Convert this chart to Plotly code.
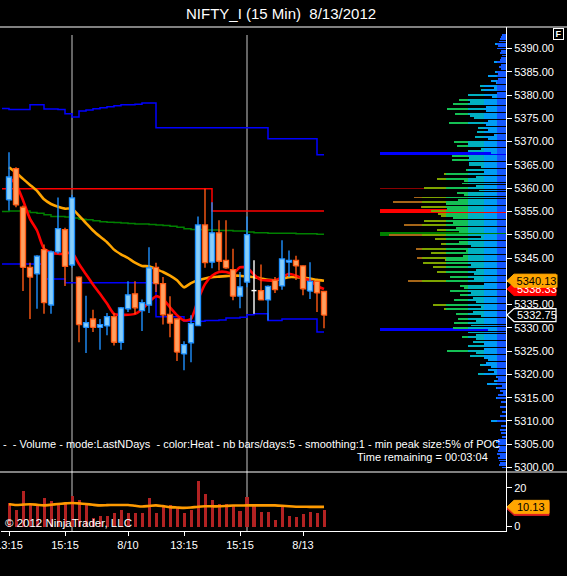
import numpy as np
import plotly.graph_objects as go

# ---------------- data ----------------
bars = list(range(46))
opens = [5357.5, 5364.2, 5355.9, 5343.0, 5341.6, 5346.8, 5334.9, 5346.3, 5351.1, 5343.5,
         5340.9, 5330.1, 5331.9, 5330.1, 5330.4, 5332.4, 5326.9, 5334.1, 5337.3, 5333.7,
         5334.9, 5343.0, 5339.5, 5332.9, 5331.9, 5324.4, 5326.8, 5330.5, 5352.1, 5344.1,
         5350.4, 5344.5, 5342.5, 5336.8, 5339.8, 5338.0, 5338.0, 5336.0, 5340.2, 5339.0,
         5344.1, 5344.5, 5343.3, 5337.9, 5340.0, 5337.8]
highs = [5367.7, 5364.5, 5356.3, 5344.0, 5345.6, 5347.9, 5346.6, 5358.0, 5351.5, 5358.6,
         5341.0, 5336.9, 5333.9, 5331.9, 5333.2, 5333.2, 5334.5, 5340.0, 5340.0, 5336.1,
         5347.3, 5344.0, 5340.9, 5336.8, 5332.0, 5327.1, 5332.7, 5353.9, 5359.9, 5357.0,
         5353.1, 5353.1, 5347.0, 5342.0, 5353.9, 5344.5, 5343.6, 5339.1, 5340.9, 5348.8,
         5346.6, 5345.5, 5343.4, 5344.1, 5340.1, 5337.9]
lows = [5355.2, 5355.9, 5337.9, 5331.9, 5334.1, 5333.0, 5333.0, 5345.9, 5339.0, 5342.9,
        5326.9, 5324.6, 5329.1, 5325.3, 5328.4, 5326.2, 5325.3, 5333.4, 5332.9, 5329.3,
        5333.2, 5337.7, 5330.7, 5328.0, 5322.9, 5320.9, 5322.6, 5330.4, 5342.9, 5342.8,
        5342.3, 5342.7, 5335.9, 5334.2, 5338.7, 5333.0, 5336.0, 5331.6, 5337.5, 5338.2,
        5340.9, 5340.3, 5337.0, 5336.2, 5333.4, 5329.9]
closes = [5362.4, 5356.4, 5343.0, 5340.9, 5345.4, 5335.4, 5346.3, 5351.3, 5343.2, 5357.9,
          5330.7, 5331.1, 5330.1, 5330.7, 5332.4, 5326.9, 5334.3, 5337.1, 5334.3, 5335.4,
          5342.9, 5339.5, 5332.8, 5331.0, 5324.8, 5326.4, 5330.9, 5352.1, 5344.0, 5350.4,
          5344.3, 5342.9, 5336.8, 5338.8, 5350.0, 5338.0, 5336.0, 5338.9, 5338.2, 5344.8,
          5344.5, 5343.3, 5338.4, 5340.0, 5337.5, 5332.75]
volumes = [12.1, 8.7, 18.5, 11.1, 11.1, 14.9, 13.3, 11.1, 12.0, 15.9,
           13.8, 12.1, 4.4, 5.3, 5.3, 7.2, 8.5, 6.8, 6.8, 6.8,
           14.7, 6.8, 11.1, 11.1, 9.9, 6.8, 8.5, 23.6, 16.8, 13.8,
           11.6, 11.6, 11.3, 7.9, 15.4, 11.1, 7.7, 7.4, 3.6, 11.1,
           5.6, 5.1, 6.3, 7.7, 6.8, 8.7]
vol_ma = [11.5, 11.1, 11.3, 11.5, 11.2, 10.9, 11.2, 11.6, 11.9, 12.1,
          11.9, 11.6, 11.2, 10.9, 11.0, 11.1, 11.1, 11.1, 10.7, 10.3,
          10.6, 10.9, 10.5, 10.0, 9.8, 9.6, 9.8, 10.2, 10.4, 10.4,
          10.4, 10.6, 10.8, 10.8, 10.9, 10.9, 10.9, 10.9, 10.9, 10.7,
          10.4, 10.2, 10.2, 10.1, 10.1, 10.13]
ema_orange = [5364.5, 5363.3, 5362.0, 5360.7, 5359.4, 5357.6, 5356.6, 5356.0, 5355.6, 5355.6,
              5354.1, 5352.5, 5350.9, 5349.6, 5348.4, 5346.8, 5345.8, 5345.0, 5344.0, 5343.3,
              5343.2, 5342.6, 5342.0, 5341.2, 5340.2, 5338.7, 5339.6, 5340.2, 5340.6, 5340.9,
              5341.0, 5341.1, 5341.2, 5341.2, 5341.0, 5340.9, 5340.6, 5340.3, 5340.2, 5340.5,
              5340.9, 5340.9, 5340.8, 5340.6, 5340.3, 5340.13]
ma_red = [5362.3, 5360.9, 5357.4, 5353.4, 5350.9, 5347.0, 5346.2, 5345.9, 5345.9, 5346.2,
          5343.7, 5341.5, 5339.3, 5337.3, 5335.2, 5333.0, 5332.8, 5332.8, 5333.0, 5334.0,
          5335.5, 5336.8, 5336.2, 5334.4, 5332.7, 5331.6, 5331.9, 5336.0, 5339.4, 5341.2,
          5342.0, 5342.0, 5341.6, 5343.0, 5342.9, 5341.4, 5340.3, 5340.2, 5340.2, 5340.8,
          5341.6, 5341.2, 5340.6, 5340.2, 5339.0, 5338.33]

step_bars = list(range(-1, 46))
green_line = [5355.0, 5355.1, 5355.1, 5355.1, 5354.8, 5354.6, 5354.3, 5353.9, 5353.9, 5353.8,
              5353.6, 5353.3, 5353.2, 5353.0, 5352.8, 5352.7, 5352.6, 5352.5, 5352.4, 5352.3,
              5352.3, 5352.2, 5352.1, 5352.0, 5351.8, 5351.6, 5351.3, 5351.1, 5351.1, 5351.0,
              5351.0, 5350.9, 5350.9, 5350.8, 5350.8, 5350.6, 5350.4, 5350.4, 5350.3, 5350.3,
              5350.3, 5350.3, 5350.2, 5350.2, 5350.2, 5350.1, 5350.1]
blue_lower = ([5343.7] * 6 + [5340.5] * 3 + [5339.7] * 13 + [5332.4] * 4 + [5331.4] * 3 +
              [5331.6] * 2 + [5331.7] + [5332.1] * 2 + [5332.3] + [5332.8] + [5333.0] * 2 +
              [5331.6] * 2 + [5331.9] * 5 + [5329.1] * 2)
blue_upper = ([5377.1] + [5376.9] * 3 + [5377.9] * 2 + [5377.0] * 2 + [5376.9] + [5376.0] +
              [5375.3] + [5376.6] + [5376.8] + [5377.05] + [5377.3] + [5377.5] + [5377.7] +
              [5377.9] * 2 + [5378.0] + [5378.3] * 2 + [5373.0] * 16 + [5370.6] * 7 + [5367.2] * 2)
red_level = [5359.9] * 30 + [5355.1] * 17

x_tick_bars = [0, 8, 17, 25, 33, 42]
x_tick_text = ['13:15', '15:15', '8/10', '13:15', '15:15', '8/13']
vline_bars = [9, 34]
price_ticks = list(range(5300, 5391, 5))
vol_ticks = [0, 20]

# volume profile (length of each price row), rows from top price down by step
profile_top = 5393.0
profile_step = 0.5
profile_len = [4, 5, 6, 7, 11, 8, 9, 5, 6, 4,
               5, 6, 12, 5, 7, 5, 11, 8, 18, 8,
               15, 10, 26, 12, 25, 9, 38, 14, 47, 36,
               53, 20, 59, 20, 51, 36, 32, 18, 57, 20,
               28, 18, 29, 12, 31, 18, 52, 38, 49, 25,
               38, 15, 54, 37, 54, 37, 37, 25, 40, 22,
               62, 30, 69, 42, 44, 30, 82, 27, 49, 42,
               92, 48, 113, 60, 85, 59, 75, 68, 65, 53,
               82, 53, 102, 50, 69, 47, 117, 25, 71, 47,
               65, 35, 90, 40, 75, 43, 89, 61, 83, 35,
               73, 30, 69, 32, 56, 32, 98, 22, 46, 42,
               56, 35, 46, 33, 52, 30, 73, 25, 62, 33,
               50, 25, 48, 30, 52, 35, 53, 18, 38, 30,
               44, 30, 33, 22, 38, 22, 59, 30, 36, 22,
               18, 20, 26, 15, 18, 12, 28, 10, 8, 12,
               19, 4, 10, 6, 3, 8, 10, 0, 5, 0,
               6, 0, 4, 0, 6, 0, 15, 0, 5, 0,
               6, 5, 0, 4, 8, 10, 8, 10, 7, 8,
               9, 6, 8, 7, 6, 7, 4]
peak_prices = [5367.4, 5359.9, 5355.1, 5350.2, 5329.6]
peak_colors = ['#0000FF', '#8B0000', '#FF0000', '#008000', '#0000FF']
peak_thick_px = [3.5, 1.5, 3.5, 3.5, 3.5]

last_price = closes[-1]
orange_last = ema_orange[-1]
red_last = ma_red[-1]
vol_ma_last = vol_ma[-1]

title_text = 'NIFTY_I (15 Min)\u00a0\u00a08/13/2012'
info_text = ('-\u00a0\u00a0- Volume - mode:LastNDays\u00a0\u00a0- color:Heat - nb bars/days:5 - '
             'smoothing:1 - min peak size:5% of POC')
time_text = 'Time remaining = 00:03:04'
copy_text = '\u00a9 2012 NinjaTrader, LLC'

# ---------------- geometry / styles ----------------
W, H = 567, 576
ML, MR, MT, MB = 1, 61, 27, 45
PW, PH = W - ML - MR, H - MT - MB
PX_PER_BAR = 7.0
X0_PX = 9.0                     # pixel of bar 0
PRICE_PX = 4.6556               # pixels per price point
P_TOP = 5390 + (48.5 - MT) / PRICE_PX
P_BOT = 5300 - (472 - 467.5) / PRICE_PX
VOL_PX = 1.94
VOL_SPLIT_PX = 472
vol_frac = (H - MB - VOL_SPLIT_PX) / PH
V_TOP = (526.5 - VOL_SPLIT_PX) / VOL_PX
V_BOT = -(H - MB - 526.5) / VOL_PX
x_lo = -(X0_PX - ML) / PX_PER_BAR
x_hi = x_lo + PW / PX_PER_BAR
HALF = 0.36
PEAK_LEN = 126
ROW_W = 0.42
FONT = 'Liberation Sans, Arial, sans-serif'

UP_FILL, UP_LINE = '#87CEFA', '#1E90FF'
DN_FILL, DN_LINE = '#FFA060', '#FF5A14'

band_edges = [0, 9, 22, 38, 60, 84, 400]
band_colors = ['#1458ff', '#009cf4', '#00b0c0', '#14c054', '#7ea400', '#a66618']


def px_x(x):
    return (x - ML) / PW


def px_y(y):
    return (H - MB - y) / PH


fig = go.Figure()

# ---- indicator lines (price panel) ----
fig.add_trace(go.Scatter(x=step_bars, y=green_line, mode='lines', line=dict(color='#008000', width=1.5, shape='hv')))
fig.add_trace(go.Scatter(x=step_bars, y=blue_upper, mode='lines', line=dict(color='#0000FF', width=1.5, shape='hv')))
fig.add_trace(go.Scatter(x=step_bars, y=blue_lower, mode='lines', line=dict(color='#0000FF', width=1.5, shape='hv')))
fig.add_trace(go.Scatter(x=step_bars, y=red_level, mode='lines', line=dict(color='#FF0000', width=1.5, shape='hv')))
fig.add_trace(go.Scatter(x=bars, y=ema_orange, mode='lines', line=dict(color='#FFA500', width=2.6, shape='spline', smoothing=0.6)))
fig.add_trace(go.Scatter(x=bars, y=ma_red, mode='lines', line=dict(color='#FF0000', width=2.6, shape='spline', smoothing=0.6)))

# ---- candles ----
up = [i for i in bars if closes[i] > opens[i]]
dn = [i for i in bars if closes[i] < opens[i]]
dj = [i for i in bars if closes[i] == opens[i]]


def wicks(ids):
    xs, ys = [], []
    for i in ids:
        xs += [bars[i], bars[i], None]
        ys += [lows[i], highs[i], None]
    return xs, ys


def bodies(ids):
    xs, ys = [], []
    for i in ids:
        lo, hi = min(opens[i], closes[i]), max(opens[i], closes[i])
        x0, x1 = bars[i] - HALF, bars[i] + HALF
        xs += [x0, x1, x1, x0, x0, None]
        ys += [lo, lo, hi, hi, lo, None]
    return xs, ys


for ids, wc in ((up, UP_LINE), (dn, DN_LINE)):
    wx, wy = wicks(ids)
    fig.add_trace(go.Scatter(x=wx, y=wy, mode='lines', line=dict(color=wc, width=1.4)))
wx, wy = wicks(dj)
for i in dj:
    wx += [bars[i] - HALF, bars[i] + HALF, None]
    wy += [opens[i], opens[i], None]
fig.add_trace(go.Scatter(x=wx, y=wy, mode='lines', line=dict(color='#FFFFFF', width=1.4)))
for ids, fc, lc in ((up, UP_FILL, UP_LINE), (dn, DN_FILL, DN_LINE)):
    bx, by = bodies(ids)
    fig.add_trace(go.Scatter(x=bx, y=by, mode='lines', fill='toself', fillcolor=fc,
                             line=dict(color=lc, width=1.3)))

# ---- volume panel ----
fig.add_trace(go.Bar(x=bars, y=volumes, yaxis='y2', width=0.43, marker=dict(color='#B22222', line=dict(width=0))))
fig.add_trace(go.Scatter(x=bars, y=vol_ma, yaxis='y2', mode='lines',
                         line=dict(color='#FF9A00', width=2.6, shape='spline', smoothing=0.6)))

# ---- volume profile (right side) ----
levels = profile_top - profile_step * np.arange(len(profile_len))
fig.add_trace(go.Bar(orientation='h', x=[PEAK_LEN] * len(peak_prices), y=peak_prices, base=0,
                     width=[t / PRICE_PX for t in peak_thick_px], xaxis='x2', yaxis='y',
                     marker=dict(color=peak_colors, line=dict(width=0))))
for a, b, col in zip(band_edges[:-1], band_edges[1:], band_colors):
    seg = [max(0, min(L, b) - a) for L in profile_len]
    fig.add_trace(go.Bar(orientation='h', x=seg, y=levels, base=a, width=ROW_W,
                         xaxis='x2', yaxis='y', marker=dict(color=col, line=dict(width=0))))

# ---- shapes ----
shapes = []
for vb in vline_bars:
    shapes.append(dict(type='line', xref='x', yref='paper', x0=vb, x1=vb, y0=0, y1=px_y(35),
                       line=dict(color='#C8C8C8', width=1), layer='below'))
for yy in (MT, VOL_SPLIT_PX):
    shapes.append(dict(type='line', xref='paper', yref='paper', x0=px_x(0), x1=px_x(W),
                       y0=px_y(yy), y1=px_y(yy), line=dict(color='#FFFFFF', width=1.2), layer='above'))


def tag(yref, yval, fill, line, dy=0, lw=1, wpx=50):
    path = (f'M 1 {dy} L 8 {6.5 + dy} L {wpx} {6.5 + dy} L {wpx} {-6.5 + dy} '
            f'L 8 {-6.5 + dy} Z')
    return dict(type='path', xref='paper', yref=yref, xsizemode='pixel', ysizemode='pixel',
                xanchor=1, yanchor=yval, path=path, fillcolor=fill,
                line=dict(color=line, width=lw), layer='above')


shapes.append(tag('y', red_last, '#FF0000', '#FF0000'))
shapes.append(tag('y', orange_last, '#FFA500', '#FFA500'))
shapes.append(tag('y', last_price, '#000000', '#FFFFFF', lw=1.2))
shapes.append(tag('y2', vol_ma_last, '#E02020', '#E02020', dy=-2, wpx=43))
shapes.append(tag('y2', vol_ma_last, '#FFA500', '#FFA500', wpx=43))

# ---- annotations ----
ann = []
ann.append(dict(text=title_text, xref='paper', yref='paper', x=px_x(281), y=px_y(13),
                xanchor='center', yanchor='middle', showarrow=False,
                font=dict(family=FONT, size=15, color='#FFFFFF')))
ann.append(dict(text='<b>F</b>', xref='paper', yref='paper', x=px_x(558), y=px_y(34),
                xanchor='center', yanchor='middle', showarrow=False, width=9, height=10,
                bgcolor='#000000', bordercolor='#FFFFFF', borderwidth=1, borderpad=0,
                font=dict(family=FONT, size=9, color='#FFFFFF')))
ann.append(dict(text=info_text, xref='paper', yref='paper', x=px_x(502), y=px_y(444),
                xanchor='right', yanchor='middle', showarrow=False,
                font=dict(family=FONT, size=11, color='#FFFFFF')))
ann.append(dict(text=time_text, xref='paper', yref='paper', x=px_x(490), y=px_y(457),
                xanchor='right', yanchor='middle', showarrow=False,
                font=dict(family=FONT, size=11, color='#FFFFFF')))
ann.append(dict(text=copy_text, xref='paper', yref='paper', x=px_x(3), y=px_y(523),
                xanchor='left', yanchor='middle', showarrow=False,
                font=dict(family=FONT, size=11.5, color='#FFFFFF')))
ann.append(dict(text=f'{red_last:.2f}', xref='paper', yref='y', x=1, y=red_last, xanchor='left',
                xshift=9, yanchor='middle', showarrow=False,
                font=dict(family=FONT, size=11, color='#FFFFFF')))
ann.append(dict(text=f'{orange_last:.2f}', xref='paper', yref='y', x=1, y=orange_last, xanchor='left',
                xshift=9, yanchor='middle', showarrow=False, width=41, height=12,
                bgcolor='#FFA500', borderpad=0,
                font=dict(family=FONT, size=11, color='#000000')))
ann.append(dict(text=f'{last_price:.2f}', xref='paper', yref='y', x=1, y=last_price, xanchor='left',
                xshift=9, yanchor='middle', showarrow=False,
                font=dict(family=FONT, size=11, color='#FFFFFF')))
ann.append(dict(text=f'{vol_ma_last:.2f}', xref='paper', yref='y2', x=1, y=vol_ma_last, xanchor='left',
                xshift=9, yanchor='middle', showarrow=False,
                font=dict(family=FONT, size=11, color='#000000')))

axis_font = dict(family=FONT, size=11, color='#FFFFFF')
fig.update_layout(
    width=W, height=H,
    margin=dict(l=ML, r=MR, t=MT, b=MB, autoexpand=False),
    paper_bgcolor='#000000', plot_bgcolor='#000000',
    showlegend=False, hovermode=False, barmode='overlay', bargap=0,
    xaxis=dict(domain=[0, 1], range=[x_lo, x_hi], anchor='y2', showgrid=False, zeroline=False,
               tickmode='array', tickvals=x_tick_bars, ticktext=x_tick_text,
               ticks='outside', ticklen=4, tickcolor='#FFFFFF', tickfont=axis_font,
               ticklabeloverflow='allow',
               showline=True, linecolor='#FFFFFF', linewidth=1),
    xaxis2=dict(overlaying='x', range=[PW, 0], visible=False, anchor='y'),
    yaxis=dict(domain=[vol_frac, 1], range=[P_BOT, P_TOP], side='right', anchor='x',
               showgrid=False, zeroline=False, tickmode='array', tickvals=price_ticks,
               tickformat='.2f', ticks='outside', ticklen=5, tickcolor='#FFFFFF',
               tickfont=axis_font, showline=True, linecolor='#FFFFFF', linewidth=1),
    yaxis2=dict(domain=[0, vol_frac], range=[V_BOT, V_TOP], side='right', anchor='x',
                showgrid=False, zeroline=False, tickmode='array', tickvals=vol_ticks,
                ticks='outside', ticklen=5, tickcolor='#FFFFFF', tickfont=axis_font,
                showline=True, linecolor='#FFFFFF', linewidth=1),
    shapes=shapes, annotations=ann,
)

fig.write_html('out.html', config={'displayModeBar': False, 'staticPlot': True},
               post_script="document.body.style.margin='0';document.body.style.background='#000';")
